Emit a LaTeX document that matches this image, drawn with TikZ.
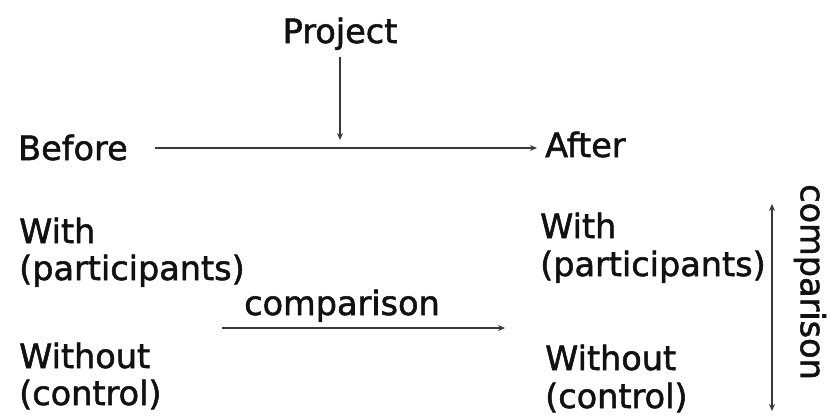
\documentclass[tikz,border=0pt]{standalone}
\usepackage{fontspec}
\setmainfont[FakeBold=1.6,AutoFakeBold=1.6]{DejaVu Sans}
\usetikzlibrary{arrows.meta}
\definecolor{ink}{HTML}{111111}
\definecolor{lin}{HTML}{3A3A3A}
\begin{document}
\begin{tikzpicture}[x=1pt,y=-1pt,
  lbl/.style={inner sep=0pt, text=ink, font=\fontsize{33.5}{39}\selectfont\bfseries, anchor=base west},
  arr/.style={draw=lin, line width=1.4pt, -{Stealth[length=7pt,width=6pt]}},
  darr/.style={draw=lin, line width=1.4pt, {Stealth[length=7pt,width=6pt]}-{Stealth[length=7pt,width=6pt]}}]
\fill[white] (0,0) rectangle (830,416);
\useasboundingbox (0,0) rectangle (830,416);
% labels
\node[lbl, anchor=base] (proj) at (340,43) {Project};
\node[lbl] (before) at (18,160) {Before};
\node[lbl] (after) at (545,157) {After};
\node[lbl] (withL) at (19,243) {With};
\node[lbl] (partL) at (19,280) {(participants)};
\node[lbl] (woL) at (19,368) {Without};
\node[lbl] (ctlL) at (19,405) {(control)};
\node[lbl] (withR) at (540,238) {With};
\node[lbl] (partR) at (540,276) {(participants)};
\node[lbl] (woR) at (545,370) {Without};
\node[lbl] (ctlR) at (545,408) {(control)};
\node[lbl, anchor=base] (cmpM) at (342,315) {comparison};
\node[lbl, anchor=center, rotate=-90] (cmpV) at (810,282) {comparison};
% connector anchors
\coordinate (hA) at (155,148);
\coordinate (hB) at (537,148);
\coordinate (pEnd) at (340,140);
\coordinate (mA) at (222,328);
\coordinate (mB) at (505,328);
\coordinate (vA) at (772,204);
\coordinate (vB) at (772,411);
% connectors
\draw[arr] (proj.south |- 0,57) -- (pEnd);
\draw[arr] (hA) -- (hB);
\draw[arr] (mA) -- (mB);
\draw[darr] (vA) -- (vB);
\end{tikzpicture}
\end{document}
